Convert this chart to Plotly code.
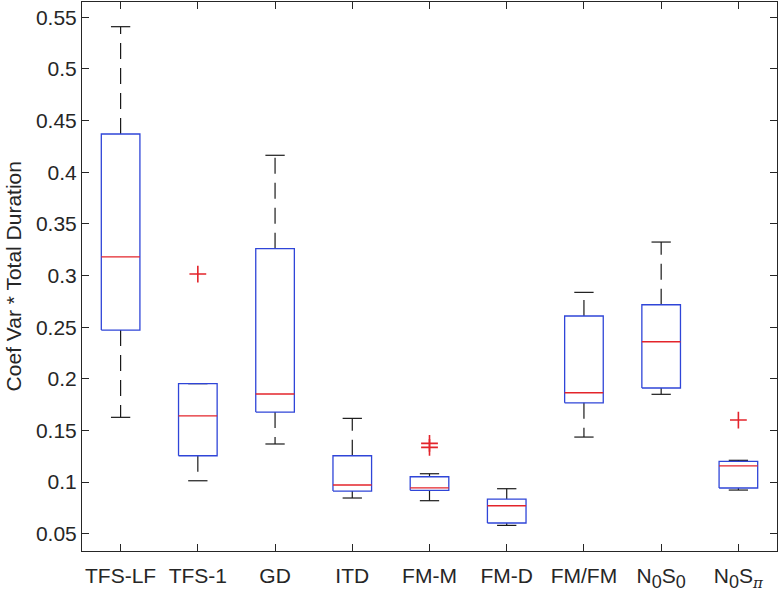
import plotly.graph_objects as go

categories = ["TFS-LF", "TFS-1", "GD", "ITD", "FM-M", "FM-D", "FM/FM",
              "N<sub><span style='font-size:18px'>0</span></sub>S<sub><span style='font-size:18px'>0</span></sub>",
              "N<sub><span style='font-size:18px'>0</span></sub>S<sub><span style='font-family:DejaVu Serif;font-style:italic;font-size:15px'>π</span></sub>"]
lower_whisker = [0.1627, 0.1013, 0.1369, 0.0846, 0.0820, 0.0581, 0.1436, 0.1850, 0.0923]
q1 = [0.2472, 0.1255, 0.1678, 0.0913, 0.0920, 0.0604, 0.1768, 0.1911, 0.0943]
median = [0.3180, 0.1642, 0.1853, 0.0972, 0.0945, 0.0771, 0.1865, 0.2359, 0.1158]
q3 = [0.4370, 0.1953, 0.3260, 0.1255, 0.1052, 0.0836, 0.2608, 0.2717, 0.1201]
upper_whisker = [0.5409, 0.1953, 0.4164, 0.1617, 0.1081, 0.0936, 0.2837, 0.3324, 0.1211]
outlier_group = [2, 5, 5, 9]
outlier_value = [0.3014, 0.1375, 0.1336, 0.1601]
y_ticks = [0.05, 0.1, 0.15, 0.2, 0.25, 0.3, 0.35, 0.4, 0.45, 0.5, 0.55]
y_tick_labels = ["0.05", "0.1", "0.15", "0.2", "0.25", "0.3", "0.35", "0.4", "0.45", "0.5", "0.55"]
y_label = "Coef Var * Total Duration"

BOX_HALF = 0.25
CAP_HALF = 0.125
BLUE = "#2f45d8"
RED = "#e3242b"
BLACK = "#1a1a1a"

positions = list(range(1, len(categories) + 1))

box_x, box_y = [], []
med_x, med_y = [], []
cap_x, cap_y = [], []
for p, a, m, b, lo, hi in zip(positions, q1, median, q3, lower_whisker, upper_whisker):
    box_x += [p - BOX_HALF, p + BOX_HALF, p + BOX_HALF, p - BOX_HALF, p - BOX_HALF, None]
    box_y += [a, a, b, b, a, None]
    med_x += [p - BOX_HALF, p + BOX_HALF, None]
    med_y += [m, m, None]
    for w in (lo, hi):
        cap_x += [p - CAP_HALF, p + CAP_HALF, None]
        cap_y += [w, w, None]

fig = go.Figure()

# dashed whiskers, each drawn from the box edge outward
for p, a, b, lo, hi in zip(positions, q1, q3, lower_whisker, upper_whisker):
    for start, end in ((b, hi), (a, lo)):
        if abs(end - start) > 1e-9:
            fig.add_trace(go.Scatter(x=[p, p], y=[start, end], mode="lines",
                                     line=dict(color=BLACK, width=1.2, dash="16px,9px"),
                                     showlegend=False, hoverinfo="skip"))

fig.add_trace(go.Scatter(x=cap_x, y=cap_y, mode="lines",
                         line=dict(color=BLACK, width=1.2), showlegend=False, hoverinfo="skip"))
fig.add_trace(go.Scatter(x=box_x, y=box_y, mode="lines",
                         line=dict(color=BLUE, width=1.3), showlegend=False, hoverinfo="skip"))
fig.add_trace(go.Scatter(x=med_x, y=med_y, mode="lines",
                         line=dict(color=RED, width=1.3), showlegend=False, hoverinfo="skip"))
fig.add_trace(go.Scatter(x=outlier_group, y=outlier_value, mode="markers",
                         marker=dict(symbol="cross-thin-open", size=12, color=RED,
                                     line=dict(color=RED, width=1.6)),
                         showlegend=False, hoverinfo="skip"))

font_family = "Liberation Sans, Arial, sans-serif"
fig.update_layout(
    width=780, height=595,
    margin=dict(l=82, r=3, t=2, b=44, autoexpand=False),
    paper_bgcolor="white", plot_bgcolor="white",
    font=dict(family=font_family, size=21, color="#262626"),
    xaxis=dict(range=[0.5, 9.5], tickvals=positions, ticktext=categories,
               showline=True, linecolor="#262626", linewidth=1, mirror="ticks",
               ticks="inside", ticklen=7, tickcolor="#262626", showgrid=False,
               zeroline=False, automargin=False, tickfont=dict(size=21),
               ticklabelstandoff=6),
    yaxis=dict(range=[0.0333, 0.5648], tickvals=y_ticks, ticktext=y_tick_labels,
               showline=True, linecolor="#262626", linewidth=1, mirror="ticks",
               ticks="inside", ticklen=7, tickcolor="#262626", showgrid=False,
               zeroline=False, automargin=False, tickfont=dict(size=21)),
    annotations=[dict(text=y_label, textangle=-90, xref="paper", yref="paper",
                      x=-0.098, y=0.5, xanchor="center", yanchor="middle",
                      showarrow=False, font=dict(size=21, color="#262626"))],
)

fig.write_html("out.html", config={"displayModeBar": False},
               post_script="document.body.style.margin='0';document.body.style.overflow='hidden';")
